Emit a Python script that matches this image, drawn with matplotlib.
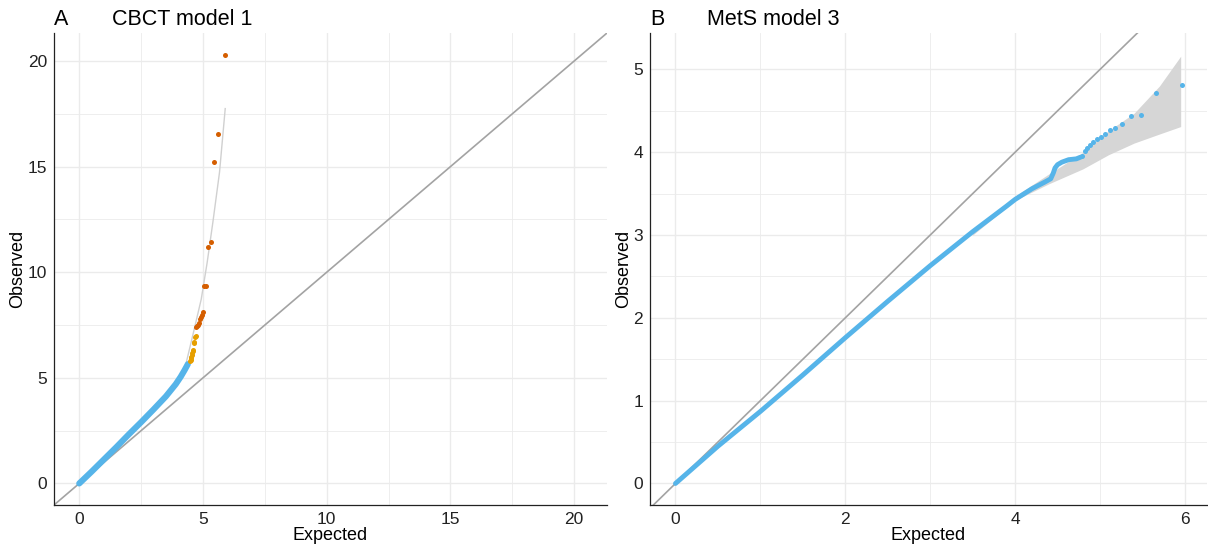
"""
QQ plots of GWAS p-values: CBCT model 1 (A) and MetS model 3 (B).
Observed vs expected -log10(p), with the y = x reference line.
"""

import matplotlib
matplotlib.use("Agg")
import matplotlib.pyplot as plt
from matplotlib.ticker import MultipleLocator

plt.rcParams["font.family"] = ["Liberation Sans", "DejaVu Sans"]

BLUE   = "#56B4E9"
ORANGE = "#E69F00"
RED    = "#D55E00"
GRID   = "#ebebeb"
DIAG   = "#a3a3a3"

# ---------------------------------------------------------------------------
# Panel A: CBCT model 1
# ---------------------------------------------------------------------------
a_bulk_exp = [0.0, 0.5, 1.0, 1.5, 2.0, 2.5, 3.0, 3.5, 3.9, 4.1, 4.25, 4.39]
a_bulk_obs = [0.0, 0.56, 1.14, 1.72, 2.32, 2.9, 3.5, 4.12, 4.7, 5.05, 5.35, 5.65]

a_sugg_exp = [4.48, 4.50, 4.51, 4.53, 4.55, 4.57, 4.59, 4.61, 4.63, 4.65, 4.68, 4.71]
a_sugg_obs = [5.80, 5.85, 5.92, 6.00, 6.10, 6.20, 6.25, 6.30, 6.65, 6.70, 6.95, 7.00]

a_sig_exp = [4.73, 4.76, 4.80, 4.83, 4.87, 4.91, 4.96, 5.01, 5.06, 5.13,
             5.21, 5.31, 5.43, 5.61, 5.91]
a_sig_obs = [7.40, 7.45, 7.52, 7.60, 7.80, 7.90, 7.97, 8.12, 9.33, 9.36,
             11.20, 11.41, 15.24, 16.56, 20.31]

a_fit_exp = [4.32, 4.58, 4.93, 5.17, 5.40, 5.67, 5.90]
a_fit_obs = [5.70, 6.97, 8.72, 10.46, 12.36, 14.74, 17.75]

# ---------------------------------------------------------------------------
# Panel B: MetS model 3
# ---------------------------------------------------------------------------
b_bulk_exp = [0.0, 0.5, 1.0, 1.5, 2.0, 2.5, 3.0, 3.5, 3.9, 4.0, 4.2, 4.35,
              4.42, 4.45, 4.47, 4.50, 4.55, 4.63, 4.72, 4.77]
b_bulk_obs = [0.0, 0.45, 0.87, 1.31, 1.76, 2.20, 2.63, 3.04, 3.35, 3.43, 3.56, 3.64,
              3.68, 3.75, 3.81, 3.85, 3.88, 3.91, 3.92, 3.94]

b_tail_exp = [4.79, 4.82, 4.85, 4.88, 4.92, 4.96, 5.01, 5.06, 5.12, 5.18,
              5.26, 5.36, 5.48, 5.66, 5.96]
b_tail_obs = [3.96, 4.01, 4.05, 4.09, 4.12, 4.16, 4.19, 4.22, 4.27, 4.29,
              4.34, 4.44, 4.45, 4.72, 4.81]

b_band_exp = [3.5, 4.0, 4.4, 4.8, 5.1, 5.4, 5.7, 5.95]
b_band_lo  = [3.00, 3.42, 3.62, 3.80, 3.97, 4.11, 4.22, 4.31]
b_band_hi  = [3.04, 3.47, 3.74, 4.00, 4.26, 4.47, 4.80, 5.16]

# ---------------------------------------------------------------------------
# Figure
# ---------------------------------------------------------------------------
fig = plt.figure(figsize=(12.08, 5.46), dpi=100)
ax_a = fig.add_axes([54 / 1208, 41 / 546, 553 / 1208, 472 / 546])
ax_b = fig.add_axes([650 / 1208, 41 / 546, 557 / 1208, 472 / 546])


def style(ax, major, minor, xmajor=None, xminor=None):
    ax.xaxis.set_major_locator(MultipleLocator(xmajor or major))
    ax.xaxis.set_minor_locator(MultipleLocator(xminor or minor))
    ax.yaxis.set_major_locator(MultipleLocator(major))
    ax.yaxis.set_minor_locator(MultipleLocator(minor))
    ax.grid(True, which="major", color=GRID, linewidth=1.0, zorder=0)
    ax.grid(True, which="minor", color=GRID, linewidth=0.6, zorder=0)
    ax.set_axisbelow(True)
    for side in ("top", "right"):
        ax.spines[side].set_visible(False)
    for side in ("left", "bottom"):
        ax.spines[side].set_color("#222222")
        ax.spines[side].set_linewidth(0.9)
    ax.tick_params(which="both", length=0, labelsize=12.5, pad=5,
                   labelcolor="#222222")
    ax.set_xlabel("Expected", fontsize=13, labelpad=0)
    ax.set_ylabel("Observed", fontsize=13, labelpad=1)


# --- Panel A ---
ax = ax_a
ax.axline((0, 0), slope=1, color=DIAG, linewidth=1.2, zorder=1)
ax.plot(a_fit_exp, a_fit_obs, color="#d0d0d0", linewidth=1.0, zorder=2)
ax.plot(a_bulk_exp, a_bulk_obs, color=BLUE, linewidth=4.4,
        solid_capstyle="round", solid_joinstyle="round", zorder=3)
ax.scatter(a_sugg_exp, a_sugg_obs, s=13, color=ORANGE, linewidths=0, zorder=4)
ax.scatter(a_sig_exp, a_sig_obs, s=13, color=RED, linewidths=0, zorder=4)
ax.set_xlim(-1.02, 21.33)
ax.set_ylim(-1.02, 21.33)
style(ax, 5, 2.5)
ax.text(0.0, 1.006, "A", transform=ax.transAxes, fontsize=15.5, va="bottom")
ax.text(58 / 553, 1.006, "CBCT model 1", transform=ax.transAxes,
        fontsize=15.5, va="bottom")

# --- Panel B ---
ax = ax_b
ax.axline((0, 0), slope=1, color=DIAG, linewidth=1.2, zorder=1)
ax.fill_between(b_band_exp, b_band_lo, b_band_hi, color="#d6d6d6",
                linewidth=0, zorder=2)
ax.plot(b_bulk_exp, b_bulk_obs, color=BLUE, linewidth=3.5,
        solid_capstyle="round", solid_joinstyle="round", zorder=3)
ax.scatter(b_tail_exp, b_tail_obs, s=13, color=BLUE, linewidths=0, zorder=4)
ax.set_xlim(-0.30, 6.26)
ax.set_ylim(-0.26, 5.44)
style(ax, 1, 0.5, xmajor=2, xminor=1)
ax.text(0.0, 1.006, "B", transform=ax.transAxes, fontsize=15.5, va="bottom")
ax.text(57 / 557, 1.006, "MetS model 3", transform=ax.transAxes,
        fontsize=15.5, va="bottom")

fig.savefig("out.png", dpi=100)
